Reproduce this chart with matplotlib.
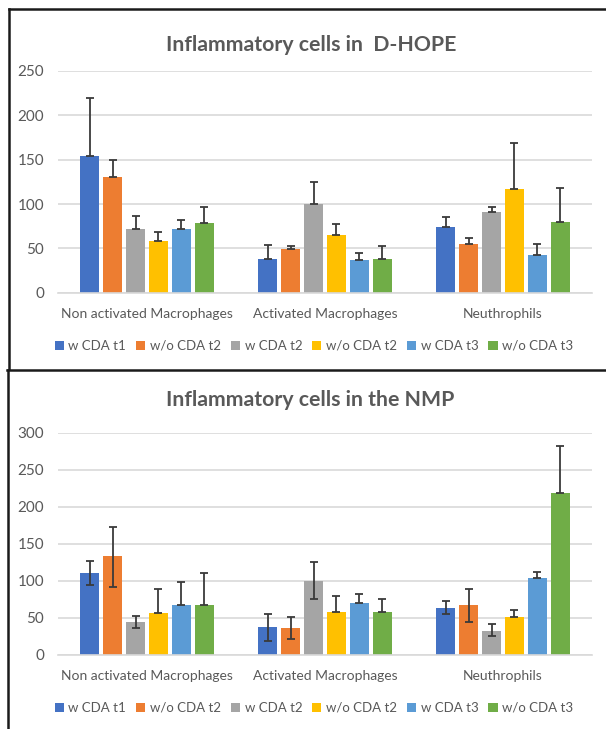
import matplotlib
matplotlib.use("Agg")
import matplotlib.pyplot as plt
import numpy as np
from matplotlib.patches import Patch
from matplotlib.lines import Line2D

plt.rcParams['font.family'] = ['Lato', 'DejaVu Sans']

categories = ["Non activated Macrophages", "Activated Macrophages", "Neuthrophils"]
series = ["w CDA t1", "w/o CDA t2", "w CDA t2", "w/o CDA t2", "w CDA t3", "w/o CDA t3"]
colors = ["#4472C4", "#ED7D31", "#A5A5A5", "#FFC000", "#5B9BD5", "#70AD47"]

# D-HOPE: means and upper error (plus-only bars)
hope_w_t1 = [154, 38, 74]
hope_wo_t2a = [131, 49, 55]
hope_w_t2 = [72, 100, 91]
hope_wo_t2b = [58, 65, 117]
hope_w_t3 = [72, 37, 42]
hope_wo_t3 = [79, 38, 80]
hope_err_up = [[66, 16, 11], [19, 4, 7], [15, 25, 6], [11, 13, 52], [10, 8, 13], [18, 15, 38]]
hope_err_low = [[0, 0, 0]] * 6

# NMP: means, upper and lower errors
nmp_w_t1 = [111, 38, 64]
nmp_wo_t2a = [133, 36, 67]
nmp_w_t2 = [45, 100, 33]
nmp_wo_t2b = [57, 58, 51]
nmp_w_t3 = [68, 70, 104]
nmp_wo_t3 = [68, 58, 218]
nmp_err_up = [[16, 18, 9], [40, 15, 22], [8, 25, 9], [32, 22, 10], [30, 12, 8], [43, 17, 64]]
nmp_err_low = [[16, 19, 8], [41, 14, 22], [8, 25, 8], [0, 0, 0], [0, 0, 0], [0, 0, 0]]

hope = [hope_w_t1, hope_wo_t2a, hope_w_t2, hope_wo_t2b, hope_w_t3, hope_wo_t3]
nmp = [nmp_w_t1, nmp_wo_t2a, nmp_w_t2, nmp_wo_t2b, nmp_w_t3, nmp_wo_t3]

TXT = "#595959"
GRID = "#D9D9D9"
W, H = 606, 729

fig = plt.figure(figsize=(W / 100, H / 100), dpi=100)
fig.patch.set_facecolor("white")


def fx(px):
    return px / W


def fy(py):
    return 1 - py / H


def draw_panel(rect, data, err_up, err_low, ymax, title, title_xy, legend_y):
    ax = fig.add_axes(rect)
    x = np.arange(len(categories))
    slot = 0.775 / len(series)
    bw = 0.104
    for i, (vals, c) in enumerate(zip(data, colors)):
        pos = x + (i - (len(series) - 1) / 2) * slot
        ax.bar(pos, vals, width=bw, color=c, zorder=2)
        ax.errorbar(pos, vals, yerr=[err_low[i], err_up[i]], fmt="none",
                    ecolor="#3a3a3a", elinewidth=1.3, capsize=3, capthick=1.3, zorder=3)
    ax.set_xlim(-0.5, len(categories) - 0.5)
    ax.set_ylim(0, ymax)
    ax.set_yticks(np.arange(0, ymax + 1, 50))
    ax.yaxis.grid(True, color=GRID, linewidth=1.2, zorder=0)
    ax.set_axisbelow(True)
    for s in ["top", "right", "left"]:
        ax.spines[s].set_visible(False)
    ax.spines["bottom"].set_color(GRID)
    ax.spines["bottom"].set_linewidth(1.2)
    ax.tick_params(length=0, colors=TXT)
    ax.tick_params(axis="y", pad=10, labelsize=11)
    ax.tick_params(axis="x", pad=11, labelsize=10)
    ax.set_xticks(x)
    ax.set_xticklabels(categories, color=TXT)
    fig.text(fx(title_xy[0]), fy(title_xy[1]), title, ha="center", va="center",
             fontsize=15.3, fontweight="bold", color=TXT)
    handles = [Patch(facecolor=c, edgecolor="none") for c in colors]
    fig.legend(handles, series, loc="center", bbox_to_anchor=(fx(314), fy(legend_y)),
               ncol=6, frameon=False, fontsize=9.5, labelcolor=TXT,
               handlelength=0.7, handleheight=0.7, handletextpad=0.35,
               columnspacing=0.75, borderpad=0)
    return ax


draw_panel([fx(58), fy(292.7), fx(592) - fx(58), (292.7 - 71) / H],
           hope, hope_err_up, hope_err_low, 250,
           "Inflammatory cells in  D-HOPE", (311, 45), 346)
draw_panel([fx(58), fy(655), fx(592) - fx(58), (655 - 432.7) / H],
           nmp, nmp_err_up, nmp_err_low, 300,
           "Inflammatory cells in the NMP", (310, 400), 708)

# panel frames
frame = dict(color="#1a1a1a", linewidth=1.8, transform=fig.transFigure)
fig.add_artist(Line2D([fx(9), fx(9)], [fy(9), fy(369)], **frame))
fig.add_artist(Line2D([fx(9), 1], [fy(9), fy(9)], **frame))
fig.add_artist(Line2D([fx(7), 1], [fy(369.5), fy(369.5)], **frame))
fig.add_artist(Line2D([fx(7.5), fx(7.5)], [fy(369.5), 0], **frame))

fig.savefig("out.png", dpi=100, facecolor="white")
